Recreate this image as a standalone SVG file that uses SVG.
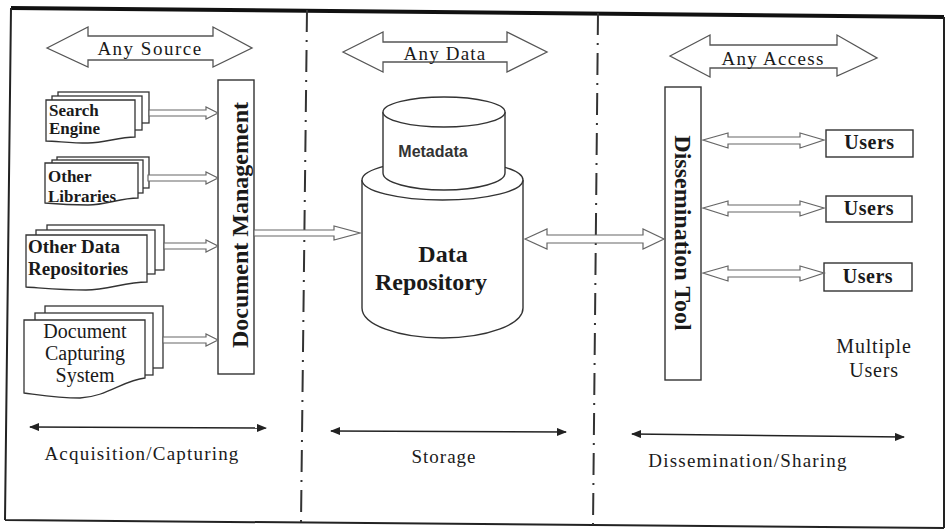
<svg xmlns="http://www.w3.org/2000/svg" width="947" height="531" viewBox="0 0 947 531">
<style>
.t{font-family:"Liberation Serif","Times New Roman",serif;fill:#1a1a1a}
.b{font-weight:bold}
.sheet{fill:#fff;stroke:#333;stroke-width:1.3}
.box{fill:#fff;stroke:#333;stroke-width:1.4}
.hol{fill:#fff;stroke:#666;stroke-width:1.2;stroke-linejoin:miter}
.big{fill:#fff;stroke:#555;stroke-width:1.3}
.div{stroke:#333;stroke-width:2;stroke-dasharray:22 8 2 8;fill:none}
.span{stroke:#222;stroke-width:1.4;fill:none;marker-start:url(#ah);marker-end:url(#ah)}
</style>
<defs>
<marker id="ah" viewBox="0 0 10 8" refX="9" refY="4" markerWidth="10" markerHeight="8" markerUnits="userSpaceOnUse" orient="auto-start-reverse">
<path d="M0,0 L10,4 L0,8 Z" fill="#222"/>
</marker>
<clipPath id="cSE"><path d="M46,100 H135 V137 C118,137 105,143 88,143 C70,143 56,141 46,141 Z"/></clipPath>
<clipPath id="cOL"><path d="M45,163 H138 V198 C120,198 106,205 88,205 C70,205 56,204 45,203 Z"/></clipPath>
</defs>
<rect width="947" height="531" fill="#fff"/>
<!-- frame -->
<g id="frame">
<path d="M11,8 L944,17" stroke="#111" stroke-width="4" fill="none"/>
<path d="M944,17 L944,528 M944,528 L5,520 M5,520 L11,8" stroke="#222" stroke-width="2" fill="none"/>
<path class="div" d="M307,10 L301,522"/>
<path class="div" d="M598,13 L593,526"/>
</g>
<!-- header arrows -->
<g id="any-source">
<path class="big" d="M47,48 L88,27 V36 H213 V27 L252,48 L213,67 V60 H88 V67 Z"/>
<text class="t" x="150" y="55" font-size="19" letter-spacing="1.5" text-anchor="middle">Any Source</text>
</g>
<g id="any-data">
<path class="big" d="M343,52 L383,32 V42 H507 V32 L547,52 L507,72 V62 H383 V72 Z"/>
<text class="t" x="445" y="60" font-size="19" letter-spacing="1.2" text-anchor="middle">Any Data</text>
</g>
<g id="any-access">
<path class="big" d="M670,56 L710,35 V45 H837 V35 L877,58 L837,76 V68 H710 V77 Z"/>
<text class="t" x="773" y="65" font-size="19" letter-spacing="1.3" text-anchor="middle">Any Access</text>
</g>
<!-- sources -->
<g id="search-engine">
<rect class="sheet" x="58" y="92" width="91" height="31"/>
<rect class="sheet" x="52" y="96" width="90" height="34"/>
<path class="sheet" d="M46,100 H135 V137 C118,137 105,143 88,143 C70,143 56,141 46,141 Z"/>
<g clip-path="url(#cSE)">
<text class="t b" x="49" y="116" font-size="17">Search</text>
<text class="t b" x="49" y="134" font-size="17">Engine</text>
</g>
</g>
<g id="other-libraries">
<rect class="sheet" x="57" y="157" width="92" height="31"/>
<rect class="sheet" x="52" y="160" width="91" height="33"/>
<path class="sheet" d="M45,163 H138 V198 C120,198 106,205 88,205 C70,205 56,204 45,203 Z"/>
<g clip-path="url(#cOL)">
<text class="t b" x="48" y="182" font-size="17">Other</text>
<text class="t b" x="48" y="202" font-size="17">Libraries</text>
</g>
</g>
<g id="other-data-repositories">
<rect class="sheet" x="47" y="225" width="117" height="45"/>
<rect class="sheet" x="36" y="230" width="119" height="44"/>
<path class="sheet" d="M26,235 H147 V282 C125,282 108,290 86,290 C62,290 42,288 26,287 Z"/>
<text class="t b" x="28" y="253" font-size="19">Other Data</text>
<text class="t b" x="28" y="275" font-size="19">Repositories</text>
</g>
<g id="document-capturing-system">
<rect class="sheet" x="45" y="306" width="118" height="62"/>
<rect class="sheet" x="35" y="313" width="118" height="62"/>
<path class="sheet" d="M24,320 H145 V378 C124,380 106,397 80,398 C58,398 40,395 24,393 Z"/>
<text class="t" x="85" y="338" font-size="20" text-anchor="middle">Document</text>
<text class="t" x="85" y="360" font-size="20" text-anchor="middle">Capturing</text>
<text class="t" x="85" y="382" font-size="20" text-anchor="middle">System</text>
</g>
<!-- document management -->
<g id="document-management">
<rect class="box" x="218" y="80" width="36" height="294"/>
<text class="t b" transform="translate(248,225) rotate(-90)" font-size="24" text-anchor="middle">Document Management</text>
</g>
<!-- data repository -->
<g id="data-repository">
<path class="box" d="M362,180 V308 A80.5,30 0 0 0 523,308 V180"/>
<ellipse class="box" cx="442.5" cy="180" rx="80.5" ry="20"/>
<text class="t b" x="443" y="262" font-size="24" text-anchor="middle">Data</text>
<text class="t b" x="431" y="290" font-size="24" text-anchor="middle">Repository</text>
</g>
<g id="metadata">
<path class="box" d="M383,112 V173 A61,17 0 0 0 505,173 V112"/>
<ellipse class="box" cx="444" cy="112" rx="61" ry="15"/>
<text x="433" y="157" font-family="Liberation Sans, Arial, sans-serif" font-weight="bold" font-size="16" fill="#333" text-anchor="middle">Metadata</text>
</g>
<!-- dissemination tool -->
<g id="dissemination-tool">
<rect class="box" x="665" y="87" width="36" height="293"/>
<text class="t b" transform="translate(675,233) rotate(90)" font-size="24" text-anchor="middle">Dissemination Tool</text>
</g>
<!-- users -->
<g id="users-1">
<rect class="box" x="826" y="130" width="87" height="27"/>
<text class="t b" x="869.5" y="149" font-size="20" letter-spacing="0.5" text-anchor="middle">Users</text>
</g>
<g id="users-2">
<rect class="box" x="826" y="196" width="86" height="26"/>
<text class="t b" x="869" y="215" font-size="20" letter-spacing="0.5" text-anchor="middle">Users</text>
</g>
<g id="users-3">
<rect class="box" x="824" y="263" width="88" height="28"/>
<text class="t b" x="868" y="283" font-size="20" letter-spacing="0.5" text-anchor="middle">Users</text>
</g>
<g id="multiple-users">
<text class="t" x="874" y="353" font-size="20" letter-spacing="0.8" text-anchor="middle">Multiple</text>
<text class="t" x="874" y="377" font-size="20" letter-spacing="0.8" text-anchor="middle">Users</text>
</g>
<!-- connectors -->
<g id="connectors">
<path class="hol" d="M149,110 H206 V107 L218,113 L206,119 V116 H149 Z"/>
<path class="hol" d="M148,175 H206 V172 L218,178 L206,184 V181 H148 Z"/>
<path class="hol" d="M164,243 H206 V240 L218,246 L206,252 V249 H164 Z"/>
<path class="hol" d="M163,337 H206 V334 L218,340 L206,346 V343 H163 Z"/>
<path class="hol" d="M254,230 H334 V226 L360,233 L334,240 V236 H254 Z"/>
<path class="hol" d="M525,239 L547,229 V235 H643 V229 L664,239 L643,249 V243 H547 V249 Z"/>
<path class="hol" d="M703,140 L728,133 V137 H800 V133 L824,140 L800,148 V144 H728 V148 Z"/>
<path class="hol" d="M703,208 L728,201 V205 H800 V201 L824,208 L800,216 V212 H728 V216 Z"/>
<path class="hol" d="M703,273 L728,266 V270 H800 V266 L824,273 L800,281 V277 H728 V281 Z"/>
<path class="span" d="M30,427 L266,428"/>
<path class="span" d="M331,431 L566,432"/>
<path class="span" d="M632,434 L904,437"/>
</g>
<!-- phase labels -->
<g id="labels">
<text class="t" x="142" y="460" font-size="19" letter-spacing="1.2" text-anchor="middle">Acquisition/Capturing</text>
<text class="t" x="444" y="463" font-size="19" letter-spacing="1" text-anchor="middle">Storage</text>
<text class="t" x="748" y="467" font-size="19" letter-spacing="1.2" text-anchor="middle">Dissemination/Sharing</text>
</g>
</svg>
